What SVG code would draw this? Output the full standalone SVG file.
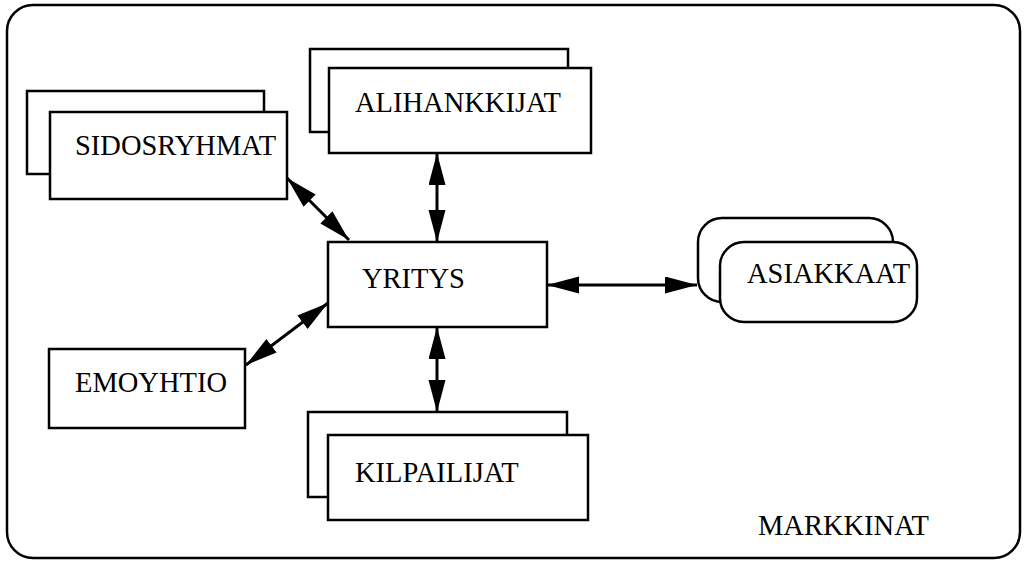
<svg xmlns="http://www.w3.org/2000/svg" width="1025" height="562" viewBox="0 0 1025 562">
<style>
.b{fill:#fff;stroke:#000;stroke-width:2.5}
.t{font-family:"Liberation Serif",serif;font-size:28.5px;fill:#000}
.c{stroke:#000;stroke-width:3;fill:none;marker-start:url(#ah);marker-end:url(#ah)}
</style>
<defs>
<marker id="ah" markerUnits="userSpaceOnUse" markerWidth="34" markerHeight="18" refX="32" refY="8.5" orient="auto-start-reverse" viewBox="0 0 34 18">
<path d="M0,0 L32,8.5 L0,17 z" fill="#000"/>
</marker>
</defs>
<rect x="7" y="5" width="1013" height="553" rx="26" ry="26" fill="#fff" stroke="#000" stroke-width="2.5"/>
<text class="t" x="758" y="535">MARKKINAT</text>
<g id="connectors">
<line class="c" x1="287" y1="178" x2="349" y2="240"/>
<line class="c" x1="437" y1="153" x2="437" y2="242"/>
<line class="c" x1="547" y1="285" x2="697" y2="285"/>
<line class="c" x1="328" y1="303" x2="246" y2="365"/>
<line class="c" x1="437" y1="327" x2="437" y2="412"/>
</g>
<g id="sidosryhmat">
<rect class="b" x="27" y="91" width="237" height="83"/>
<rect class="b" x="50" y="112" width="237" height="87"/>
<text class="t" x="75" y="155">SIDOSRYHMAT</text>
</g>
<g id="alihankkijat">
<rect class="b" x="310" y="49" width="258" height="83"/>
<rect class="b" x="329" y="68" width="262" height="85"/>
<text class="t" x="355" y="112">ALIHANKKIJAT</text>
</g>
<g id="yritys">
<rect class="b" x="328" y="242" width="219" height="85"/>
<text class="t" x="362" y="288">YRITYS</text>
</g>
<g id="asiakkaat">
<rect class="b" x="698" y="218" width="195" height="84" rx="24" ry="24"/>
<rect class="b" x="720" y="242" width="197" height="80" rx="24" ry="24"/>
<text class="t" x="747" y="283">ASIAKKAAT</text>
</g>
<g id="emoyhtio">
<rect class="b" x="49" y="349" width="196" height="79"/>
<text class="t" x="75" y="392">EMOYHTIO</text>
</g>
<g id="kilpailijat">
<rect class="b" x="308" y="412" width="259" height="85"/>
<rect class="b" x="328" y="435" width="260" height="85"/>
<text class="t" x="355" y="482">KILPAILIJAT</text>
</g>
</svg>
